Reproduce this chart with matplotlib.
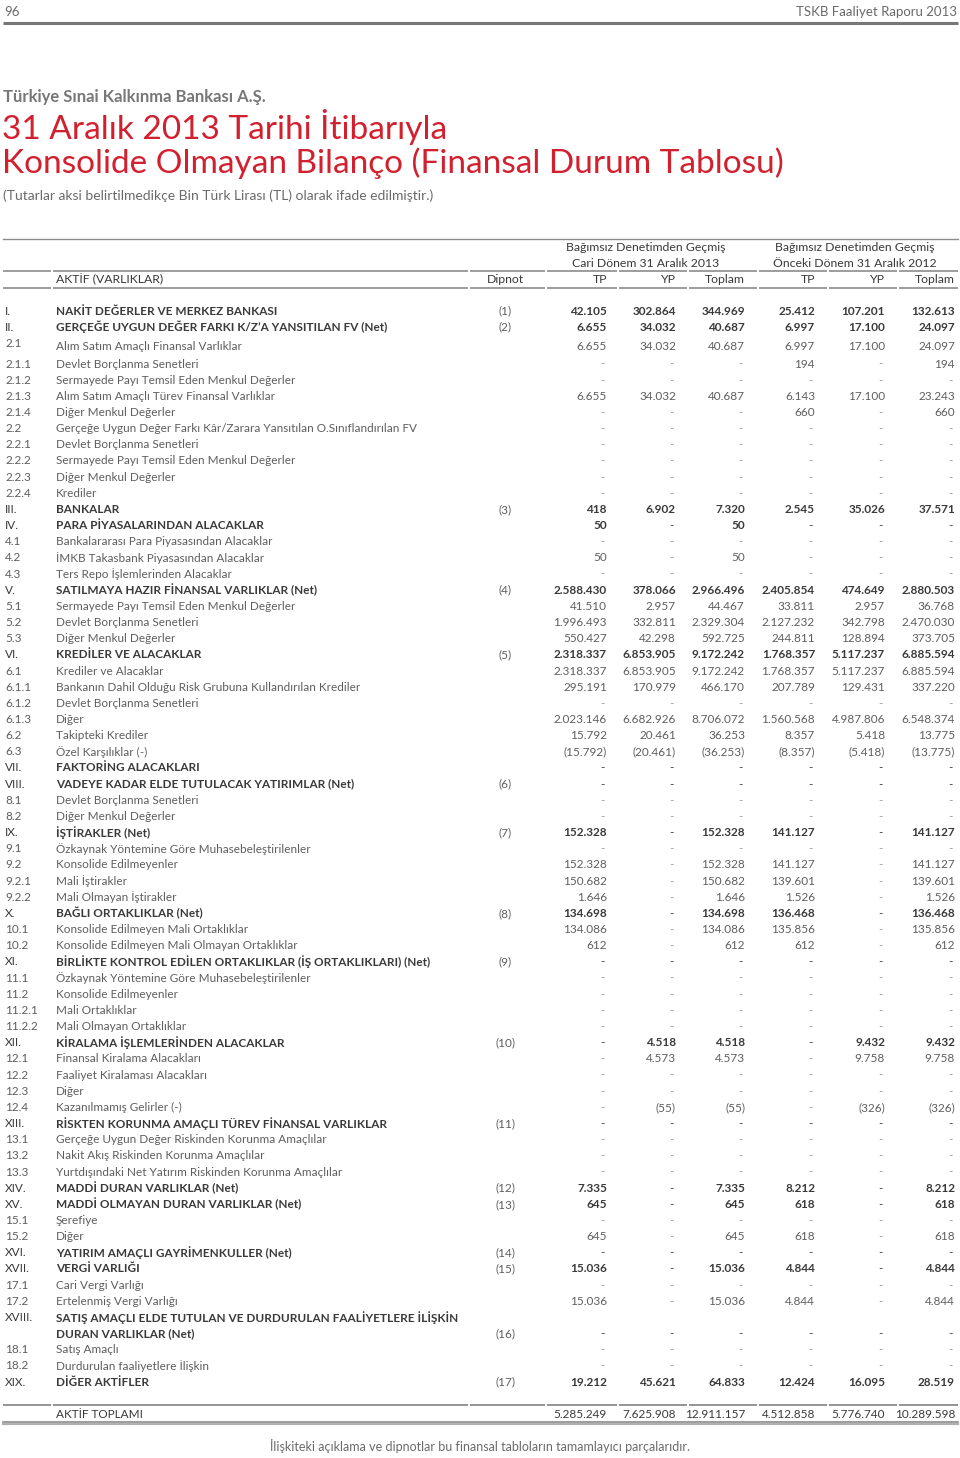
import matplotlib
matplotlib.use("Agg")
import matplotlib.pyplot as plt

# ---------------- data ----------------
codes = ["I.", "II.", "2.1", "2.1.1", "2.1.2", "2.1.3", "2.1.4", "2.2", "2.2.1", "2.2.2", "2.2.3", "2.2.4",
         "III.", "IV.", "4.1", "4.2", "4.3", "V.", "5.1", "5.2", "5.3", "VI.", "6.1", "6.1.1", "6.1.2", "6.1.3",
         "6.2", "6.3", "VII.", "VIII.", "8.1", "8.2", "IX.", "9.1", "9.2", "9.2.1", "9.2.2", "X.", "10.1", "10.2",
         "XI.", "11.1", "11.2", "11.2.1", "11.2.2", "XII.", "12.1", "12.2", "12.3", "12.4", "XIII.", "13.1",
         "13.2", "13.3", "XIV.", "XV.", "15.1", "15.2", "XVI.", "XVII.", "17.1", "17.2", "XVIII.", "18.1",
         "18.2", "XIX."]

labels = [
    "NAKİT DEĞERLER VE MERKEZ BANKASI",
    "GERÇEĞE UYGUN DEĞER FARKI K/Z’A YANSITILAN FV (Net)",
    "Alım Satım Amaçlı Finansal Varlıklar",
    "Devlet Borçlanma Senetleri",
    "Sermayede Payı Temsil Eden Menkul Değerler",
    "Alım Satım Amaçlı Türev Finansal Varlıklar",
    "Diğer Menkul Değerler",
    "Gerçeğe Uygun Değer Farkı Kâr/Zarara Yansıtılan O.Sınıflandırılan FV",
    "Devlet Borçlanma Senetleri",
    "Sermayede Payı Temsil Eden Menkul Değerler",
    "Diğer Menkul Değerler",
    "Krediler",
    "BANKALAR",
    "PARA PİYASALARINDAN ALACAKLAR",
    "Bankalararası Para Piyasasından Alacaklar",
    "İMKB Takasbank Piyasasından Alacaklar",
    "Ters Repo İşlemlerinden Alacaklar",
    "SATILMAYA HAZIR FİNANSAL VARLIKLAR (Net)",
    "Sermayede Payı Temsil Eden Menkul Değerler",
    "Devlet Borçlanma Senetleri",
    "Diğer Menkul Değerler",
    "KREDİLER VE ALACAKLAR",
    "Krediler ve Alacaklar",
    "Bankanın Dahil Olduğu Risk Grubuna Kullandırılan Krediler",
    "Devlet Borçlanma Senetleri",
    "Diğer",
    "Takipteki Krediler",
    "Özel Karşılıklar (-)",
    "FAKTORİNG ALACAKLARI",
    "VADEYE KADAR ELDE TUTULACAK YATIRIMLAR (Net)",
    "Devlet Borçlanma Senetleri",
    "Diğer Menkul Değerler",
    "İŞTİRAKLER (Net)",
    "Özkaynak Yöntemine Göre Muhasebeleştirilenler",
    "Konsolide Edilmeyenler",
    "Mali İştirakler",
    "Mali Olmayan İştirakler",
    "BAĞLI ORTAKLIKLAR (Net)",
    "Konsolide Edilmeyen Mali Ortaklıklar",
    "Konsolide Edilmeyen Mali Olmayan Ortaklıklar",
    "BİRLİKTE KONTROL EDİLEN ORTAKLIKLAR (İŞ ORTAKLIKLARI) (Net)",
    "Özkaynak Yöntemine Göre Muhasebeleştirilenler",
    "Konsolide Edilmeyenler",
    "Mali Ortaklıklar",
    "Mali Olmayan Ortaklıklar",
    "KİRALAMA İŞLEMLERİNDEN ALACAKLAR",
    "Finansal Kiralama Alacakları",
    "Faaliyet Kiralaması Alacakları",
    "Diğer",
    "Kazanılmamış Gelirler (-)",
    "RİSKTEN KORUNMA AMAÇLI TÜREV FİNANSAL VARLIKLAR",
    "Gerçeğe Uygun Değer Riskinden Korunma Amaçlılar",
    "Nakit Akış Riskinden Korunma Amaçlılar",
    "Yurtdışındaki Net Yatırım Riskinden Korunma Amaçlılar",
    "MADDİ DURAN VARLIKLAR (Net)",
    "MADDİ OLMAYAN DURAN VARLIKLAR (Net)",
    "Şerefiye",
    "Diğer",
    "YATIRIM AMAÇLI GAYRİMENKULLER (Net)",
    "VERGİ VARLIĞI",
    "Cari Vergi Varlığı",
    "Ertelenmiş Vergi Varlığı",
    "SATIŞ AMAÇLI ELDE TUTULAN VE DURDURULAN FAALİYETLERE İLİŞKİN\nDURAN VARLIKLAR (Net)",
    "Satış Amaçlı",
    "Durdurulan faaliyetlere İlişkin",
    "DİĞER AKTİFLER",
]

dipnot = {"I.": "(1)", "II.": "(2)", "III.": "(3)", "V.": "(4)", "VI.": "(5)", "VIII.": "(6)",
          "IX.": "(7)", "X.": "(8)", "XI.": "(9)", "XII.": "(10)", "XIII.": "(11)", "XIV.": "(12)",
          "XV.": "(13)", "XVI.": "(14)", "XVII.": "(15)", "XVIII.": "(16)", "XIX.": "(17)"}

N = None
tp_2013 = [42105, 6655, 6655, N, N, 6655, N, N, N, N, N, N, 418, 50, N, 50, N, 2588430, 41510, 1996493,
           550427, 2318337, 2318337, 295191, N, 2023146, 15792, -15792, N, N, N, N, 152328, N, 152328,
           150682, 1646, 134698, 134086, 612, N, N, N, N, N, N, N, N, N, N, N, N, N, N, 7335, 645, N, 645,
           N, 15036, N, 15036, N, N, N, 19212]
yp_2013 = [302864, 34032, 34032, N, N, 34032, N, N, N, N, N, N, 6902, N, N, N, N, 378066, 2957, 332811,
           42298, 6853905, 6853905, 170979, N, 6682926, 20461, -20461, N, N, N, N, N, N, N,
           N, N, N, N, N, N, N, N, N, N, 4518, 4573, N, N, -55, N, N, N, N, N, N, N, N,
           N, N, N, N, N, N, N, 45621]
top_2013 = [344969, 40687, 40687, N, N, 40687, N, N, N, N, N, N, 7320, 50, N, 50, N, 2966496, 44467, 2329304,
            592725, 9172242, 9172242, 466170, N, 8706072, 36253, -36253, N, N, N, N, 152328, N, 152328,
            150682, 1646, 134698, 134086, 612, N, N, N, N, N, 4518, 4573, N, N, -55, N, N, N, N, 7335, 645, N,
            645, N, 15036, N, 15036, N, N, N, 64833]
tp_2012 = [25412, 6997, 6997, 194, N, 6143, 660, N, N, N, N, N, 2545, N, N, N, N, 2405854, 33811, 2127232,
           244811, 1768357, 1768357, 207789, N, 1560568, 8357, -8357, N, N, N, N, 141127, N, 141127,
           139601, 1526, 136468, 135856, 612, N, N, N, N, N, N, N, N, N, N, N, N, N, N, 8212, 618, N, 618,
           N, 4844, N, 4844, N, N, N, 12424]
yp_2012 = [107201, 17100, 17100, N, N, 17100, N, N, N, N, N, N, 35026, N, N, N, N, 474649, 2957, 342798,
           128894, 5117237, 5117237, 129431, N, 4987806, 5418, -5418, N, N, N, N, N, N, N,
           N, N, N, N, N, N, N, N, N, N, 9432, 9758, N, N, -326, N, N, N, N, N, N, N, N,
           N, N, N, N, N, N, N, 16095]
top_2012 = [132613, 24097, 24097, 194, N, 23243, 660, N, N, N, N, N, 37571, N, N, N, N, 2880503, 36768,
            2470030, 373705, 6885594, 6885594, 337220, N, 6548374, 13775, -13775, N, N, N, N, 141127, N,
            141127, 139601, 1526, 136468, 135856, 612, N, N, N, N, N, 9432, 9758, N, N, -326, N, N, N, N,
            8212, 618, N, 618, N, 4844, N, 4844, N, N, N, 28519]

total_label = "AKTİF TOPLAMI"
totals = [5285249, 7625908, 12911157, 4512858, 5776740, 10289598]

col_headers = ["TP", "YP", "Toplam", "TP", "YP", "Toplam"]
group_headers = [("Bağımsız Denetimden Geçmiş", "Cari Dönem 31 Aralık 2013"),
                 ("Bağımsız Denetimden Geçmiş", "Önceki Dönem 31 Aralık 2012")]

series = [tp_2013, yp_2013, top_2013, tp_2012, yp_2012, top_2012]


def fmt(v):
    if v is None:
        return "-"
    s = f"{abs(v):,}".replace(",", ".")
    return f"({s})" if v < 0 else s


# ---------------- drawing ----------------
FONT = "Lato"
RED = "#d2202f"
GRAY_T = "#6a6a6a"
DARK = "#3a3a3a"
SUB = "#5e5e5e"
DASH = "#9a9a9a"
LINE = "#8c8c8c"

fig = plt.figure(figsize=(9.6, 14.58), dpi=100)
ax = fig.add_axes([0, 0, 1, 1])
ax.set_xlim(0, 960)
ax.set_ylim(1458, 0)
ax.axis("off")

# page header
ax.text(4, 12, "96", fontsize=9.5, color=GRAY_T, family=FONT, va="center", ha="left")
ax.text(957, 12, "TSKB Faaliyet Raporu 2013", fontsize=9.5, color=GRAY_T, family=FONT, va="center", ha="right")
ax.plot([3, 958], [22.5, 22.5], color="#777777", lw=2.2, solid_capstyle="butt")

ax.text(3, 97, "Türkiye Sınai Kalkınma Bankası A.Ş.", fontsize=12, color="#777777", family=FONT,
        weight="bold", va="center", ha="left")
ax.text(2, 127, "31 Aralık 2013 Tarihi İtibarıyla", fontsize=24, color=RED, family=FONT,
        va="center", ha="left")
ax.text(2, 163, "Konsolide Olmayan Bilanço (Finansal Durum Tablosu)", fontsize=24, color=RED, family=FONT,
        va="center", ha="left")
ax.text(3, 196, "(Tutarlar aksi belirtilmedikçe Bin Türk Lirası (TL) olarak ifade edilmiştir.)", fontsize=10,
        color=GRAY_T, family=FONT, va="center", ha="left")

# column geometry
col_right = [607, 676, 745, 815, 885, 955]
x_code, x_label, x_dip = 5, 56, 505
TS = 8.5

# table header
seg_breaks = [3, 51, 53, 468, 470, 545, 547, 617, 619, 687, 689, 757, 759, 827, 829, 897, 899, 958]


def seg_line(y, lw, color):
    for a, b in zip(seg_breaks[0::2], seg_breaks[1::2]):
        ax.plot([a, b], [y, y], color=color, lw=lw, solid_capstyle="butt")


ax.plot([3, 958], [239, 239], color=LINE, lw=1.0)
seg_line(271, 1.2, LINE)
seg_line(288, 1.2, LINE)
for gi, (h1, h2) in enumerate(group_headers):
    cx = (col_right[3 * gi] - 60 + col_right[3 * gi + 2]) / 2
    ax.text(cx, 247, h1, fontsize=TS + 0.3, color=DARK, family=FONT, ha="center", va="center")
    ax.text(cx, 263, h2, fontsize=TS + 0.3, color=DARK, family=FONT, ha="center", va="center")
ax.text(x_label, 279, "AKTİF (VARLIKLAR)", fontsize=TS + 0.3, color=DARK, family=FONT, ha="left", va="center")
ax.text(x_dip, 279, "Dipnot", fontsize=TS + 0.3, color=DARK, family=FONT, ha="center", va="center")
for xr, h in zip(col_right, col_headers):
    ax.text(xr, 279, h, fontsize=TS + 0.3, color=DARK, family=FONT, ha="right", va="center")

# row y positions
step = 16.16
ys = []
y = 364.0
for i, c in enumerate(codes):
    if i == 0:
        ys.append(311.0)
    elif i == 1:
        ys.append(327.0)
    elif i == 2:
        ys.append(346.0)
    else:
        ys.append(y)
        y += step * (2 if "\n" in labels[i] else 1)

for i, c in enumerate(codes):
    bold = not c[0].isdigit()
    color = DARK if bold else SUB
    weight = "bold" if bold else "normal"
    yy = ys[i]
    two = "\n" in labels[i]
    code_y = yy - 3 if c == "2.1" else yy
    ax.text(x_code, code_y, c, fontsize=TS, color=color, family=FONT, ha="left", va="center")
    if two:
        l1, l2 = labels[i].split("\n")
        ax.text(x_label, yy, l1, fontsize=TS, color=color, family=FONT, weight=weight, ha="left", va="center")
        ax.text(x_label, yy + step, l2, fontsize=TS, color=color, family=FONT, weight=weight, ha="left",
                va="center")
        yv = yy + step
    else:
        ax.text(x_label, yy, labels[i], fontsize=TS, color=color, family=FONT, weight=weight, ha="left",
                va="center")
        yv = yy
    if c in dipnot:
        ax.text(x_dip, yv, dipnot[c], fontsize=TS, color=SUB, family=FONT, ha="center", va="center")
    for xr, s in zip(col_right, series):
        v = s[i]
        txt = fmt(v)
        if v is None:
            ax.text(xr - 2, yv, txt, fontsize=TS, color=DARK if bold else DASH, family=FONT, ha="right",
                    va="center")
        else:
            ax.text(xr, yv, txt, fontsize=TS, color=color, family=FONT, weight=weight, ha="right",
                    va="center")

# total row
seg_line(1405, 1.3, LINE)
ax.text(x_label, 1414, total_label, fontsize=TS, color=DARK, family=FONT, ha="left", va="center")
for xr, v in zip(col_right, totals):
    ax.text(xr, 1414, fmt(v), fontsize=TS, color=DARK, family=FONT, ha="right", va="center")
ax.plot([3, 958], [1421.5, 1421.5], color="#8a8a8a", lw=1.2)
ax.plot([3, 958], [1424, 1424], color="#b0b0b0", lw=1.6)

ax.text(480, 1446, "İlişkiteki açıklama ve dipnotlar bu finansal tabloların tamamlayıcı parçalarıdır.",
        fontsize=9, color=GRAY_T, family=FONT, ha="center", va="center")

fig.savefig("out.png", dpi=100)
